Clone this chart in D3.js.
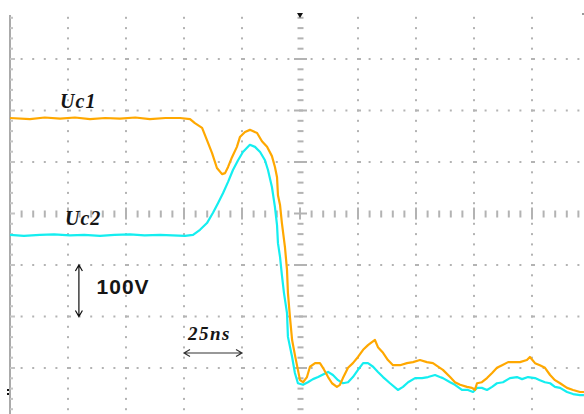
<!DOCTYPE html>
<html>
<head>
<meta charset="utf-8">
<script src="https://cdn.jsdelivr.net/npm/d3@7"></script>
<style>
  body { margin: 0; background: #fff; }
  svg { display: block; }
</style>
</head>
<body>
<div id="scope"></div>
<script>
// Uc1 trace (time in ns, voltage in V above the ground marker)
const uc1Time = [0, 8.6, 15, 21.6, 28, 34.5, 41, 47.4, 54, 60.3, 67, 73.3, 77.6, 79.7, 82.8, 84.9, 87.1, 89.2, 91.4, 92.7, 94.0, 95.7, 97.8, 99.1, 101.3, 103.4, 106.5, 108.6, 110.8, 112.9, 114.2, 115.1, 115.5, 116.4, 117.2, 118.5, 119.4, 119.8, 120.7, 121.6, 122.8, 124.1, 125.0, 126.3, 128.0, 129.3, 131.5, 133.6, 134.9, 137.1, 138.8, 140.9, 142.2, 143.5, 145.7, 147.8, 150.0, 152.2, 154.3, 156.0, 157.3, 158.6, 160.8, 162.9, 165.1, 168.1, 171.1, 173.7, 176.7, 179.7, 182.3, 185.3, 186.6, 189.7, 191.8, 194.0, 197.0, 199.1, 200.4, 201.3, 203.4, 205.6, 207.8, 209.9, 212.1, 214.7, 217.7, 219.8, 222.8, 224.1, 226.3, 228.4, 230.6, 232.8, 234.9, 237.1, 240.1, 242.7, 245.7, 247.4];
const uc1Volt = [532, 530, 533, 531, 533, 530, 532, 531, 533, 530, 532, 532, 530, 522, 513, 489, 464, 435, 423, 425, 437, 456, 476, 495, 505, 509, 503, 487, 476, 458, 437, 417, 382, 363, 328, 282, 237, 192, 144, 101, 72, 43, 23, 19, 29, 49, 56, 56, 47, 29, 17, 10, 14, 27, 47, 56, 68, 82, 91, 97, 101, 87, 76, 62, 52, 52, 56, 58, 62, 58, 56, 47, 43, 29, 19, 14, 10, 8, 4, 17, 19, 27, 37, 47, 52, 58, 58, 58, 62, 68, 56, 52, 47, 33, 23, 17, 8, 4, 0, 0];

// Uc2 trace
const uc2Time = [0, 6, 12.9, 19, 25.9, 32, 38.8, 45, 51.7, 58, 64.7, 70, 75.4, 78.9, 81.9, 84.9, 87.5, 89.7, 91.8, 94.0, 96.1, 98.3, 100.4, 103.4, 105.6, 107.8, 109.9, 111.2, 112.9, 114.2, 115.1, 115.5, 116.4, 117.2, 118.1, 119.4, 119.8, 121.6, 122.8, 124.1, 126.3, 128.4, 130.6, 132.8, 134.5, 137.1, 139.2, 141.4, 143.5, 145.7, 147.8, 150.0, 152.2, 154.3, 156.5, 158.6, 160.8, 163.8, 167.2, 169.4, 171.6, 174.6, 177.6, 180.2, 183.2, 185.3, 186.6, 189.7, 191.8, 194.8, 197.4, 199.6, 201.3, 203.4, 205.6, 207.8, 209.9, 212.5, 215.5, 218.5, 220.7, 223.3, 226.3, 228.4, 230.6, 232.8, 234.9, 237.1, 240.1, 242.7, 245.7, 247.4];
const uc2Volt = [305, 303, 305, 306, 304, 305, 303, 305, 306, 304, 305, 304, 303, 305, 315, 328, 348, 367, 386, 408, 431, 450, 466, 480, 476, 466, 450, 431, 398, 359, 324, 289, 262, 227, 192, 153, 107, 68, 37, 17, 14, 19, 25, 29, 33, 39, 33, 23, 17, 19, 29, 43, 56, 56, 49, 39, 29, 17, 4, 10, 19, 27, 27, 29, 33, 29, 27, 19, 14, 4, 4, 0, 8, 8, 4, 10, 17, 19, 27, 29, 25, 29, 27, 23, 19, 17, 10, 8, 0, -4, -6, -6];

// screen: 10 divisions of 25 ns, 8 divisions of 100 V
const nsPerDiv = 25;
const voltPerDiv = 100;
const timeDomain = [0, 250];
const voltDomain = [-53.4, 746.6];

// annotations (data units)
const labels = [
  {text: "Uc1", t: 21.6, v: 552, kind: "serif"},
  {text: "Uc2", t: 23.7, v: 325, kind: "serif"},
  {text: "100V", t: 37.3, v: 191, kind: "sans"},
  {text: "25ns", t: 76.7, v: 100, kind: "serif"}
];
const voltArrow = {t: 29.7, v0: 146.6, v1: 246.6};
const timeArrow = {v: 75.7, t0: 75, t1: 100};

function drawScope() {
    const width = 584, height = 414;

    d3.select("#scope").select("svg").remove();

    const svg = d3.select("#scope")
        .append("svg")
        .attr("width", width)
        .attr("height", height)
        .style("background", "#fff");

    const x = d3.scaleLinear().domain(timeDomain).range([10, 590]);
    const y = d3.scaleLinear().domain(voltDomain).range([419.5, 7.5]);

    const gridColor = "#b3b3b3";
    const visible = py => py > 13 && py < height;

    const grid = svg.append("g").attr("class", "grid");

    // minor positions
    const minorT = d3.range(0, 250.01, nsPerDiv / 5);
    const minorV = d3.range(voltDomain[1], voltDomain[0] - 0.01, -voltPerDiv / 5);
    const majorT = d3.range(nsPerDiv, 250, nsPerDiv);
    const majorV = d3.range(voltDomain[1] - voltPerDiv, voltDomain[0], -voltPerDiv);
    const centerT = 125;
    const centerV = voltDomain[1] - 4 * voltPerDiv;

    // dotted vertical lines
    majorT.filter(t => Math.abs(t - centerT) > 1).forEach(t => {
        grid.selectAll(null)
            .data(minorV.filter(v => visible(y(v))))
            .join("rect")
            .attr("x", x(t) - 1)
            .attr("y", v => y(v) - 1)
            .attr("width", 2)
            .attr("height", 2)
            .attr("fill", gridColor);
    });

    // dotted horizontal lines
    majorV.filter(v => Math.abs(v - centerV) > 1).forEach(v => {
        grid.selectAll(null)
            .data(minorT.filter(t => x(t) > 12 && x(t) < width))
            .join("rect")
            .attr("x", t => x(t) - 1)
            .attr("y", y(v) - 1)
            .attr("width", t => (Math.abs((t / nsPerDiv) % 1) < 0.01 ? 4 : 2))
            .attr("height", 2)
            .attr("fill", gridColor);
    });

    // center vertical axis ticks
    grid.selectAll(null)
        .data(minorV.filter(v => visible(y(v))))
        .join("rect")
        .attr("x", v => x(centerT) - (isMajorV(v) ? 6 : 2.5))
        .attr("y", v => y(v) - 1)
        .attr("width", v => isMajorV(v) ? 13 : 6)
        .attr("height", 2)
        .attr("fill", gridColor);

    // center horizontal axis ticks
    grid.selectAll(null)
        .data(minorT.filter(t => x(t) > 12 && x(t) < width))
        .join("rect")
        .attr("x", t => x(t) - 1)
        .attr("y", t => y(centerV) - (isMajorT(t) ? 6 : 3))
        .attr("width", 2)
        .attr("height", t => isMajorT(t) ? 12 : 7)
        .attr("fill", gridColor);

    // left border with ticks
    grid.append("rect")
        .attr("x", x(0) - 1)
        .attr("y", 15)
        .attr("width", 2)
        .attr("height", height - 15)
        .attr("fill", "#aaaaaa");

    grid.selectAll(null)
        .data(minorV.filter(v => visible(y(v))))
        .join("rect")
        .attr("x", x(0))
        .attr("y", v => y(v) - 1)
        .attr("width", v => isMajorV(v) ? 5 : 3)
        .attr("height", 2)
        .attr("fill", "#c4c4c4");

    function isMajorV(v) {
        return Math.abs(((voltDomain[1] - v) / voltPerDiv) % 1) < 0.01;
    }
    function isMajorT(t) {
        return Math.abs((t / nsPerDiv) % 1) < 0.01;
    }

    // trigger and ground markers
    svg.append("path")
        .attr("d", `M${x(centerT) - 3},13 L${x(centerT) + 3},13 L${x(centerT)},18 Z`)
        .attr("fill", "#111");
    svg.append("rect")
        .attr("x", 582).attr("y", 13).attr("width", 2).attr("height", 2)
        .attr("fill", "#999");
    svg.append("rect")
        .attr("x", x(0) - 3).attr("y", y(0) - 3).attr("width", 2).attr("height", 2)
        .attr("fill", "#111");
    svg.append("rect")
        .attr("x", x(0) - 3).attr("y", y(0) + 1).attr("width", 2).attr("height", 2)
        .attr("fill", "#111");

    // traces
    const line = d3.line()
        .x(d => x(d[0]))
        .y(d => y(d[1]));

    svg.append("path")
        .datum(d3.zip(uc2Time, uc2Volt))
        .attr("class", "uc2")
        .attr("fill", "none")
        .attr("stroke", "#14eef0")
        .attr("stroke-width", 2.2)
        .attr("stroke-linejoin", "round")
        .attr("d", line);

    svg.append("path")
        .datum(d3.zip(uc1Time, uc1Volt))
        .attr("class", "uc1")
        .attr("fill", "none")
        .attr("stroke", "#ffa800")
        .attr("stroke-width", 2.2)
        .attr("stroke-linejoin", "round")
        .attr("d", line);

    // labels
    svg.selectAll("text.lbl")
        .data(labels)
        .join("text")
        .attr("class", "lbl")
        .attr("x", d => x(d.t))
        .attr("y", d => y(d.v))
        .style("font-family", d => d.kind === "sans" ? "'Liberation Sans', Arial, sans-serif" : "'Liberation Serif', 'Times New Roman', serif")
        .style("font-style", d => d.kind === "sans" ? "normal" : "italic")
        .style("font-weight", "bold")
        .style("font-size", d => d.kind === "sans" ? "21px" : (d.text === "25ns" ? "19px" : "20px"))
        .style("letter-spacing", d => d.text === "25ns" ? "1.5px" : "1px")
        .style("fill", "#151515")
        .text(d => d.text);

    // scale arrows
    const ax = x(voltArrow.t), ay0 = y(voltArrow.v1), ay1 = y(voltArrow.v0);
    svg.append("path")
        .attr("d", `M${ax},${ay0} L${ax},${ay1} M${ax - 3.5},${ay0 + 6} L${ax},${ay0} L${ax + 3.5},${ay0 + 6} M${ax - 3.5},${ay1 - 6} L${ax},${ay1} L${ax + 3.5},${ay1 - 6}`)
        .attr("fill", "none")
        .attr("stroke", "#111")
        .attr("stroke-width", 1.2);

    const hy = y(timeArrow.v), hx0 = x(timeArrow.t0), hx1 = x(timeArrow.t1);
    svg.append("path")
        .attr("d", `M${hx0},${hy} L${hx1},${hy} M${hx0 + 6},${hy - 3.5} L${hx0},${hy} L${hx0 + 6},${hy + 3.5} M${hx1 - 6},${hy - 3.5} L${hx1},${hy} L${hx1 - 6},${hy + 3.5}`)
        .attr("fill", "none")
        .attr("stroke", "#333")
        .attr("stroke-width", 1.2);
}

window.addEventListener('load', drawScope);
</script>
</body>
</html>
